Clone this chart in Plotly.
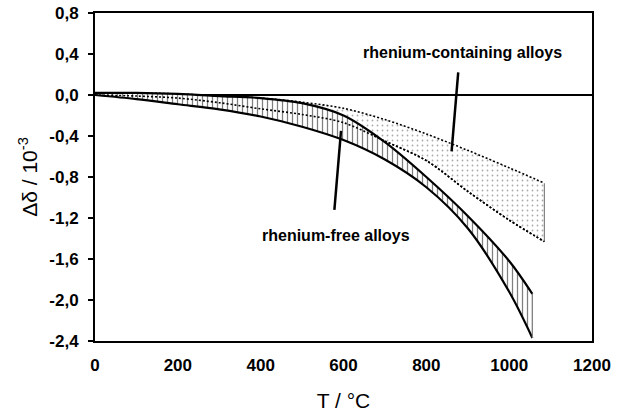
import plotly.graph_objects as go

# Rhenium-free alloys: upper / lower bound of the scatter band
rf_T = [0, 100, 200, 300, 400, 500, 600, 700, 800, 900, 1000, 1056]
rf_upper = [0.02, 0.02, 0.01, -0.01, -0.03, -0.08, -0.20, -0.46, -0.80, -1.18, -1.62, -1.94]
rf_lower = [0.0, -0.04, -0.09, -0.14, -0.21, -0.31, -0.44, -0.63, -0.90, -1.30, -1.92, -2.37]

# Rhenium-containing alloys: upper / lower bound of the scatter band
rc_T = [0, 100, 200, 300, 400, 500, 600, 700, 800, 900, 1000, 1085]
rc_upper = [0.02, 0.02, 0.01, -0.01, -0.03, -0.07, -0.13, -0.24, -0.38, -0.54, -0.71, -0.86]
rc_lower = [0.0, -0.01, -0.03, -0.075, -0.135, -0.19, -0.27, -0.45, -0.64, -0.94, -1.22, -1.43]

# Axis ticks
x_ticks = [0, 200, 400, 600, 800, 1000, 1200]
x_ticktext = ["0", "200", "400", "600", "800", "1000", "1200"]
y_ticks = [0.8, 0.4, 0.0, -0.4, -0.8, -1.2, -1.6, -2.0, -2.4]
y_ticktext = ["0,8", "0,4", "0,0", "-0,4", "-0,8", "-1,2", "-1,6", "-2,0", "-2,4"]

# Band labels: text position and leader line (start, end)
rc_label = "rhenium-containing alloys"
rc_label_pos = (888, 0.41)
rc_leader_T = [877, 861]
rc_leader_v = [0.22, -0.55]

rf_label = "rhenium-free alloys"
rf_label_pos = (583, -1.37)
rf_leader_T = [594, 578]
rf_leader_v = [-0.35, -1.12]

FONT = "Liberation Sans, Arial, sans-serif"
SPLINE = dict(shape="spline", smoothing=0.9)

fig = go.Figure()


def add_band(T, upper, lower, pattern, edge_width, edge_dash):
    # lower bound first, then upper bound filled down to it
    fig.add_trace(go.Scatter(x=T, y=lower, mode="lines",
                             line=dict(color="black", width=edge_width, dash=edge_dash, **SPLINE),
                             hoverinfo="skip", showlegend=False))
    fig.add_trace(go.Scatter(x=T, y=upper, mode="lines", fill="tonexty",
                             fillcolor="rgba(0,0,0,0)", fillpattern=pattern,
                             line=dict(color="black", width=edge_width, dash=edge_dash, **SPLINE),
                             hoverinfo="skip", showlegend=False))
    # thin closing edge at the high-temperature end
    fig.add_trace(go.Scatter(x=[T[-1], T[-1]], y=[upper[-1], lower[-1]], mode="lines",
                             line=dict(color="#808080", width=1.2),
                             hoverinfo="skip", showlegend=False))


add_band(rc_T, rc_upper, rc_lower,
         dict(shape=".", size=5, solidity=0.1, fgcolor="#555555", bgcolor="rgba(0,0,0,0)"),
         1.6, "2px,2px")
add_band(rf_T, rf_upper, rf_lower,
         dict(shape="|", size=5, solidity=0.25, fgcolor="black", bgcolor="white"),
         2.2, "solid")

# dotted lower bound of the rhenium-containing band stays visible through the hatching
fig.add_trace(go.Scatter(x=rc_T, y=rc_lower, mode="lines",
                         line=dict(color="black", width=1.6, dash="2px,2px", **SPLINE),
                         hoverinfo="skip", showlegend=False))

# leader lines
for lt, lv in ((rc_leader_T, rc_leader_v), (rf_leader_T, rf_leader_v)):
    fig.add_trace(go.Scatter(x=lt, y=lv, mode="lines", line=dict(color="black", width=2.5),
                             hoverinfo="skip", showlegend=False))

for txt, (tx, ty) in ((rc_label, rc_label_pos), (rf_label, rf_label_pos)):
    fig.add_annotation(x=tx, y=ty, text=f"<b>{txt}</b>", showarrow=False,
                       font=dict(family=FONT, size=16, color="black"))

fig.update_layout(
    width=619, height=412,
    margin=dict(l=95, r=27, t=13, b=71),
    paper_bgcolor="white", plot_bgcolor="white",
    font=dict(family=FONT, color="black"),
    xaxis=dict(range=[0, 1200], tickvals=x_ticks, ticktext=x_ticktext, automargin=False,
               showgrid=False, zeroline=False, showline=True, linecolor="black", linewidth=2,
               mirror=True, ticks="", ticklabelstandoff=8,
               tickfont=dict(family=FONT, size=17, weight="bold"),
               title=dict(text="T / °C", font=dict(family=FONT, size=21), standoff=21)),
    yaxis=dict(range=[-2.4, 0.8], tickvals=y_ticks, ticktext=y_ticktext, automargin=False,
               showgrid=False, zeroline=True, zerolinecolor="black", zerolinewidth=1.5,
               showline=True, linecolor="black", linewidth=2, mirror=True,
               ticks="outside", ticklen=5, tickwidth=1.5, tickcolor="black", ticklabelstandoff=6,
               tickfont=dict(family=FONT, size=17, weight="bold"),
               title=dict(text="Δδ / 10<sup>-3</sup>", font=dict(family=FONT, size=21), standoff=6)),
)

fig.write_html("out.html")
